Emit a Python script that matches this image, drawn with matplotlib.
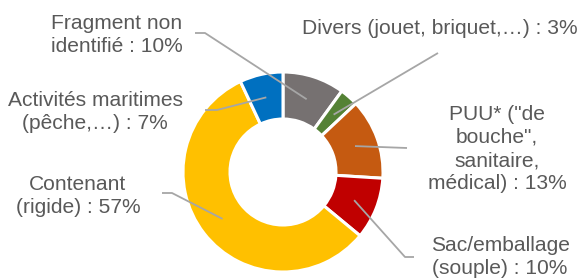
import numpy as np
import matplotlib
matplotlib.use("Agg")
import matplotlib.pyplot as plt

labels = ["Fragment non\nidentifié : 10%",
          "Divers (jouet, briquet,…) : 3%",
          "PUU* (\"de\nbouche\",\nsanitaire,\nmédical) : 13%",
          "Sac/emballage\n(souple) : 10%",
          "Contenant\n(rigide) : 57%",
          "Activités maritimes\n(pêche,…) : 7%"]
values = [10, 3, 13, 10, 57, 7]
colors = ["#767171", "#548235", "#C55A11", "#C00000", "#FFC000", "#0070C0"]

W, H = 579, 278
fig = plt.figure(figsize=(W / 100, H / 100), dpi=100)
ax = fig.add_axes([0, 0, 1, 1])

cx, cy = 283, H - 172
R = 100
ring = 0.47
wedges, _ = ax.pie(values, colors=colors, startangle=90, counterclock=False,
                   center=(cx, cy), radius=R,
                   wedgeprops=dict(width=R * ring, edgecolor="white", linewidth=2.2))
ax.set_xlim(0, W)
ax.set_ylim(0, H)
ax.set_aspect("equal")
ax.axis("off")

# label anchors (text center) and leader geometry in pixel coords (y from top)
text_pos = [(117, 35), (440, 28), (497, 149), (500, 257), (78, 196), (95, 112)]
leader_start = [(195, 33), (438, 53), (407, 148), (414, 257), (162, 193), (205, 110)]
leader_elbow = [(205, 33), (438, 53), (407, 148), (405, 257), (172, 193), (217, 110)]

rmid = R * (1 - ring / 2)
cum = np.cumsum([0] + values[:-1])
total = sum(values)
for i, (lab, v) in enumerate(zip(labels, values)):
    ang = np.deg2rad(90 - (cum[i] + v / 2) / total * 360)
    px, py = cx + rmid * np.cos(ang), cy + rmid * np.sin(ang)
    sx, sy = leader_start[i]
    ex, ey = leader_elbow[i]
    ax.plot([sx, ex, px], [H - sy, H - ey, py], color="#A6A6A6", lw=1.3,
            solid_capstyle="butt", zorder=3)
    tx, ty = text_pos[i]
    ax.text(tx, H - ty, lab, ha="center", va="center", multialignment="center",
            fontsize=15.1, color="#595959", family="Liberation Sans",
            linespacing=1.27)

fig.savefig("out.png", dpi=100)
